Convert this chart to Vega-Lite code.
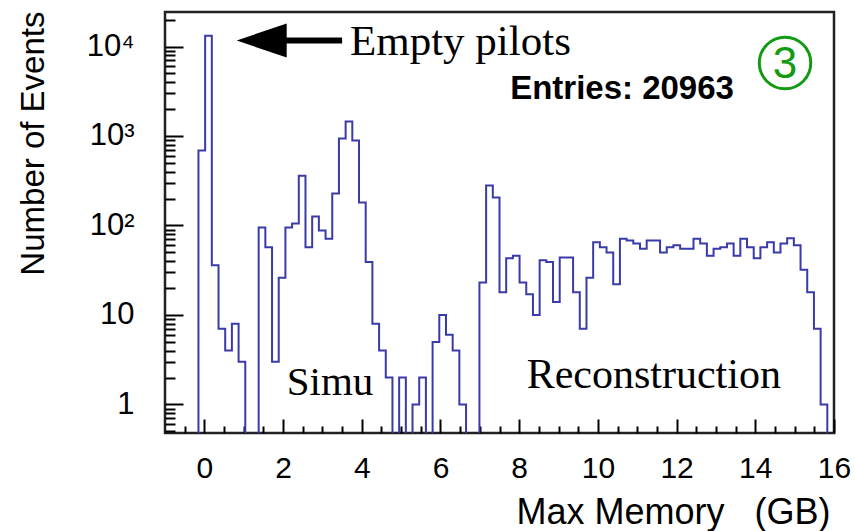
{
  "$schema": "https://vega.github.io/schema/vega-lite/v6.json",
  "autosize": "none",
  "width": 669,
  "height": 421,
  "padding": {"left": 165, "top": 12, "right": 21, "bottom": 98},
  "background": "white",
  "config": {
    "view": {"stroke": "#222222", "strokeWidth": 2.5},
    "font": "Liberation Sans"
  },
  "datasets": {
    "hist": [
      {"mem": -1.00, "events": 0.1}, {"mem": -0.83, "events": 0.1}, {"mem": -0.66, "events": 0.1}, {"mem": -0.49, "events": 0.1}, {"mem": -0.32, "events": 0.1},
      {"mem": -0.15, "events": 690}, {"mem": 0.02, "events": 13200}, {"mem": 0.19, "events": 36}, {"mem": 0.36, "events": 7}, {"mem": 0.53, "events": 4},
      {"mem": 0.70, "events": 8}, {"mem": 0.87, "events": 3}, {"mem": 1.04, "events": 0.1}, {"mem": 1.21, "events": 0.1}, {"mem": 1.38, "events": 95},
      {"mem": 1.55, "events": 57}, {"mem": 1.72, "events": 3}, {"mem": 1.89, "events": 26}, {"mem": 2.06, "events": 95}, {"mem": 2.23, "events": 105},
      {"mem": 2.40, "events": 360}, {"mem": 2.57, "events": 57}, {"mem": 2.74, "events": 126}, {"mem": 2.91, "events": 88}, {"mem": 3.08, "events": 71},
      {"mem": 3.25, "events": 228}, {"mem": 3.42, "events": 940}, {"mem": 3.59, "events": 1450}, {"mem": 3.76, "events": 890}, {"mem": 3.93, "events": 181},
      {"mem": 4.10, "events": 39}, {"mem": 4.27, "events": 8}, {"mem": 4.44, "events": 4}, {"mem": 4.61, "events": 2}, {"mem": 4.78, "events": 0.1},
      {"mem": 4.95, "events": 2}, {"mem": 5.12, "events": 0.1}, {"mem": 5.29, "events": 1}, {"mem": 5.46, "events": 2}, {"mem": 5.63, "events": 0.1},
      {"mem": 5.80, "events": 5}, {"mem": 5.97, "events": 10}, {"mem": 6.14, "events": 6}, {"mem": 6.31, "events": 4}, {"mem": 6.48, "events": 1},
      {"mem": 6.65, "events": 0.1}, {"mem": 6.82, "events": 0.1}, {"mem": 6.99, "events": 23}, {"mem": 7.16, "events": 280}, {"mem": 7.33, "events": 206},
      {"mem": 7.50, "events": 18}, {"mem": 7.67, "events": 43}, {"mem": 7.84, "events": 46}, {"mem": 8.01, "events": 23}, {"mem": 8.18, "events": 17},
      {"mem": 8.35, "events": 10}, {"mem": 8.52, "events": 41}, {"mem": 8.69, "events": 39}, {"mem": 8.86, "events": 14}, {"mem": 9.03, "events": 44},
      {"mem": 9.20, "events": 44}, {"mem": 9.37, "events": 18}, {"mem": 9.54, "events": 7}, {"mem": 9.71, "events": 26}, {"mem": 9.88, "events": 65},
      {"mem": 10.05, "events": 57}, {"mem": 10.22, "events": 50}, {"mem": 10.39, "events": 22}, {"mem": 10.56, "events": 71}, {"mem": 10.73, "events": 68},
      {"mem": 10.90, "events": 63}, {"mem": 11.07, "events": 55}, {"mem": 11.24, "events": 68}, {"mem": 11.41, "events": 68}, {"mem": 11.58, "events": 50},
      {"mem": 11.75, "events": 57}, {"mem": 11.92, "events": 60}, {"mem": 12.09, "events": 55}, {"mem": 12.26, "events": 55}, {"mem": 12.43, "events": 71},
      {"mem": 12.60, "events": 63}, {"mem": 12.77, "events": 46}, {"mem": 12.94, "events": 55}, {"mem": 13.11, "events": 57}, {"mem": 13.28, "events": 63},
      {"mem": 13.45, "events": 46}, {"mem": 13.62, "events": 71}, {"mem": 13.79, "events": 57}, {"mem": 13.96, "events": 43}, {"mem": 14.13, "events": 57},
      {"mem": 14.30, "events": 65}, {"mem": 14.47, "events": 50}, {"mem": 14.64, "events": 63}, {"mem": 14.81, "events": 72}, {"mem": 14.98, "events": 60},
      {"mem": 15.15, "events": 32}, {"mem": 15.32, "events": 18}, {"mem": 15.49, "events": 7}, {"mem": 15.66, "events": 1}, {"mem": 15.83, "events": 0.1},
      {"mem": 16.00, "events": 0.1}
    ]
  },
  "resolve": {"axis": {"x": "independent"}},
  "layer": [
    {
      "data": {"name": "hist"},
      "mark": {"type": "line", "interpolate": "step-after", "color": "#3a3aa8", "strokeWidth": 2, "clip": true},
      "encoding": {
        "x": {
          "field": "mem", "type": "quantitative",
          "scale": {"domain": [-1, 16], "nice": false, "zero": false},
          "axis": {
            "orient": "bottom",
            "title": "Max Memory\u00a0\u00a0 (GB)",
            "values": [0, 2, 4, 6, 8, 10, 12, 14, 16],
            "labelOverlap": false,
            "labelFontSize": 30,
            "labelColor": "#000000",
            "labelPadding": 34,
            "labelFlush": false,
            "domain": false,
            "grid": false,
            "tickColor": "#000000",
            "tickWidth": 2,
            "tickSize": -14,
            "titleFontSize": 36,
            "titleFontWeight": "normal",
            "titleColor": "#000000",
            "titleAnchor": "end",
            "titleAlign": "right",
            "titleBaseline": "alphabetic",
            "titleX": 665,
            "titleY": 90
          }
        },
        "y": {
          "field": "events", "type": "quantitative",
          "scale": {"type": "log", "domain": [0.48, 24300], "nice": false},
          "axis": {
            "title": "Number of Events",
            "values": [0.5, 0.6, 0.7, 0.8, 0.9, 1, 2, 3, 4, 5, 6, 7, 8, 9, 10, 20, 30, 40, 50, 60, 70, 80, 90, 100, 200, 300, 400, 500, 600, 700, 800, 900, 1000, 2000, 3000, 4000, 5000, 6000, 7000, 8000, 9000, 10000, 20000],
            "labelExpr": "datum.value == 10000 ? '10\u2074' : datum.value == 1000 ? '10\u00b3' : datum.value == 100 ? '10\u00b2' : datum.value == 10 ? '10' : datum.value == 1 ? '1' : ''",
            "labelOverlap": false,
            "labelFontSize": 31,
            "labelColor": "#000000",
            "labelPadding": 49,
            "labelFlush": false,
            "domain": false,
            "grid": false,
            "tickColor": "#000000",
            "tickWidth": 2,
            "tickSize": {"condition": {"test": "datum.value == 1 || datum.value == 10 || datum.value == 100 || datum.value == 1000 || datum.value == 10000", "value": -18}, "value": -10},
            "titleFontSize": 33,
            "titleFontWeight": "normal",
            "titleColor": "#000000",
            "titleAngle": -90,
            "titleAnchor": "end",
            "titleAlign": "right",
            "titleBaseline": "alphabetic",
            "titleX": -122,
            "titleY": -1
          }
        }
      }
    },
    {
      "data": {"name": "hist"},
      "mark": {"type": "line", "interpolate": "step-after", "opacity": 0, "clip": true},
      "encoding": {
        "x": {
          "field": "mem", "type": "quantitative",
          "axis": {
            "orient": "bottom",
            "title": null,
            "values": [-0.5, 0.5, 1, 1.5, 2.5, 3, 3.5, 4.5, 5, 5.5, 6.5, 7, 7.5, 8.5, 9, 9.5, 10.5, 11, 11.5, 12.5, 13, 13.5, 14.5, 15, 15.5],
            "labels": false,
            "domain": false,
            "grid": false,
            "tickColor": "#000000",
            "tickWidth": 2,
            "tickSize": -7
          }
        },
        "y": {"field": "events", "type": "quantitative"}
      }
    },
    {
      "data": {"values": [{}]},
      "mark": {"type": "rule", "color": "#000000", "strokeWidth": 6, "strokeCap": "butt"},
      "encoding": {
        "x": {"datum": 1.9, "type": "quantitative", "axis": null},
        "x2": {"datum": 3.5},
        "y": {"datum": 11670, "type": "quantitative"}
      }
    },
    {
      "data": {"values": [{}]},
      "mark": {"type": "point", "shape": "M-1,0L1,-0.68L1,0.68Z", "filled": true, "color": "#000000", "opacity": 1, "size": 2500},
      "encoding": {
        "x": {"datum": 1.457, "type": "quantitative", "axis": null},
        "y": {"datum": 11670, "type": "quantitative"}
      }
    },
    {
      "data": {"values": [{"label": "Empty pilots"}]},
      "mark": {"type": "text", "font": "Liberation Serif", "fontSize": 43, "align": "left", "baseline": "alphabetic", "color": "#000000"},
      "encoding": {
        "x": {"datum": 3.7, "type": "quantitative", "axis": null},
        "y": {"datum": 7950, "type": "quantitative"},
        "text": {"field": "label"}
      }
    },
    {
      "data": {"values": [{"label": "Simu"}]},
      "mark": {"type": "text", "font": "Liberation Serif", "fontSize": 41, "align": "left", "baseline": "alphabetic", "color": "#000000"},
      "encoding": {
        "x": {"datum": 2.093, "type": "quantitative", "axis": null},
        "y": {"datum": 1.26, "type": "quantitative"},
        "text": {"field": "label"}
      }
    },
    {
      "data": {"values": [{"label": "Reconstruction"}]},
      "mark": {"type": "text", "font": "Liberation Serif", "fontSize": 42, "align": "left", "baseline": "alphabetic", "color": "#000000"},
      "encoding": {
        "x": {"datum": 8.19, "type": "quantitative", "axis": null},
        "y": {"datum": 1.51, "type": "quantitative"},
        "text": {"field": "label"}
      }
    },
    {
      "data": {"values": [{"label": "Entries: 20963"}]},
      "mark": {"type": "text", "font": "Liberation Sans", "fontSize": 33, "fontWeight": "bold", "align": "left", "baseline": "alphabetic", "color": "#000000"},
      "encoding": {
        "x": {"datum": 7.77, "type": "quantitative", "axis": null},
        "y": {"datum": 2560, "type": "quantitative"},
        "text": {"field": "label"}
      }
    },
    {
      "data": {"values": [{}]},
      "mark": {"type": "point", "shape": "circle", "filled": false, "stroke": "#139a13", "strokeWidth": 3, "opacity": 1, "size": 2650},
      "encoding": {
        "x": {"datum": 14.756, "type": "quantitative", "axis": null},
        "y": {"datum": 6542, "type": "quantitative"}
      }
    },
    {
      "data": {"values": [{"label": "3"}]},
      "mark": {"type": "text", "font": "Liberation Sans", "fontSize": 44, "align": "center", "baseline": "middle", "color": "#139a13", "dy": 2},
      "encoding": {
        "x": {"datum": 14.756, "type": "quantitative", "axis": null},
        "y": {"datum": 6542, "type": "quantitative"},
        "text": {"field": "label"}
      }
    }
  ]
}
